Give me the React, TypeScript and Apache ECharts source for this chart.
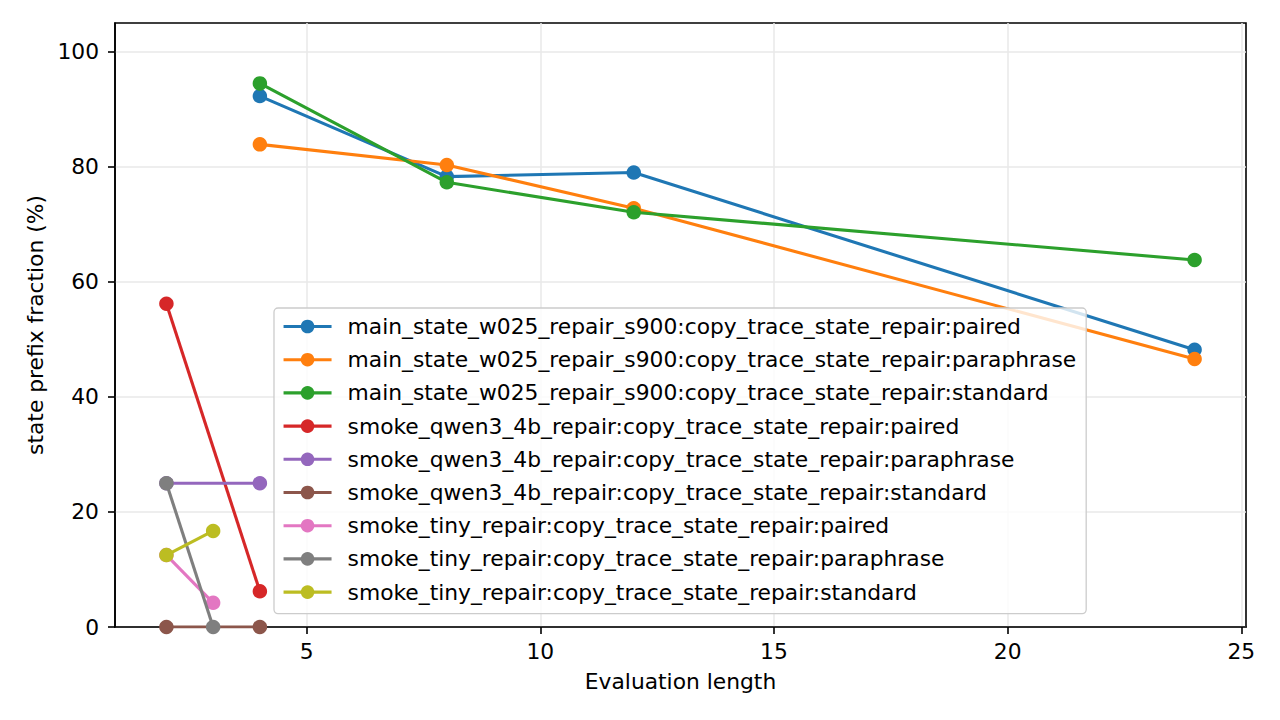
import React, { useEffect, useRef } from "react";
import * as echarts from "echarts";

const seriesNames = [
  "main_state_w025_repair_s900:copy_trace_state_repair:paired",
  "main_state_w025_repair_s900:copy_trace_state_repair:paraphrase",
  "main_state_w025_repair_s900:copy_trace_state_repair:standard",
  "smoke_qwen3_4b_repair:copy_trace_state_repair:paired",
  "smoke_qwen3_4b_repair:copy_trace_state_repair:paraphrase",
  "smoke_qwen3_4b_repair:copy_trace_state_repair:standard",
  "smoke_tiny_repair:copy_trace_state_repair:paired",
  "smoke_tiny_repair:copy_trace_state_repair:paraphrase",
  "smoke_tiny_repair:copy_trace_state_repair:standard",
];

const colors = [
  "#1f77b4", "#ff7f0e", "#2ca02c", "#d62728", "#9467bd",
  "#8c564b", "#e377c2", "#7f7f7f", "#bcbd22",
];

const xMain = [4, 8, 12, 24];
const mainPaired = [92.3, 78.3, 79.0, 48.2];
const mainParaphrase = [83.9, 80.3, 72.8, 46.6];
const mainStandard = [94.5, 77.3, 72.1, 63.8];

const xQwen = [2, 4];
const qwenPaired = [56.2, 6.2];
const qwenParaphrase = [25.0, 25.0];
const qwenStandard = [0.0, 0.0];

const xTiny = [2, 3];
const tinyPaired = [12.5, 4.2];
const tinyParaphrase = [25.0, 0.0];
const tinyStandard = [12.5, 16.7];

const xTicks = [5, 10, 15, 20, 25];
const yTicks = [0, 20, 40, 60, 80, 100];

const seriesX = [xMain, xMain, xMain, xQwen, xQwen, xQwen, xTiny, xTiny, xTiny];
const seriesY = [
  mainPaired, mainParaphrase, mainStandard,
  qwenPaired, qwenParaphrase, qwenStandard,
  tinyPaired, tinyParaphrase, tinyStandard,
];

const FONT = "DejaVu Sans";
const FS = 21.8;

export default function App() {
  const ref = useRef<HTMLDivElement>(null);

  useEffect(() => {
    if (!ref.current) return;
    const chart = echarts.init(ref.current, undefined, { renderer: "svg" });

    const series = seriesNames.map((name, i) => ({
      name,
      type: "line",
      data: seriesX[i].map((x, j) => [x, seriesY[i][j]]),
      symbol: "circle",
      symbolSize: 14.5,
      showSymbol: true,
      lineStyle: { width: 3.1, color: colors[i] },
      itemStyle: { color: colors[i] },
      emphasis: { disabled: true },
      z: 2 + i * 0.01,
    }));

    const axisText = { fontFamily: FONT, fontSize: FS, color: "#000" };

    chart.setOption({
      animation: false,
      color: colors,
      grid: {
        left: 115,
        top: 23,
        width: 1131,
        height: 604,
        show: true,
        borderColor: "#000",
        borderWidth: 1.6,
        backgroundColor: "transparent",
        containLabel: false,
      },
      xAxis: {
        type: "value",
        min: 0.9,
        max: 25.1,
        name: "Evaluation length",
        nameLocation: "middle",
        nameGap: 43,
        nameTextStyle: axisText,
        axisLine: { show: true, onZero: false, lineStyle: { color: "#000", width: 1.6 } },
        axisTick: {
          show: true,
          length: 7,
          customValues: xTicks,
          lineStyle: { color: "#000", width: 1.6 },
        },
        axisLabel: { ...axisText, margin: 13, customValues: xTicks },
        splitLine: { show: true, lineStyle: { color: "#e8e8e8", width: 1.5 } },
      },
      yAxis: {
        type: "value",
        min: 0,
        max: 105,
        name: "state prefix fraction (%)",
        nameLocation: "middle",
        nameGap: 63,
        nameTextStyle: axisText,
        axisLine: { show: true, onZero: false, lineStyle: { color: "#000", width: 1.6 } },
        axisTick: {
          show: true,
          length: 7,
          customValues: yTicks,
          lineStyle: { color: "#000", width: 1.6 },
        },
        axisLabel: { ...axisText, margin: 16, customValues: yTicks },
        splitLine: { show: true, lineStyle: { color: "#e8e8e8", width: 1.5 } },
      },
      legend: {
        orient: "vertical",
        left: 274,
        top: 308,
        itemWidth: 48,
        itemHeight: 17,
        itemGap: 11.2,
        padding: [7.5, 10, 10.5, 8],
        backgroundColor: "rgba(255,255,255,0.8)",
        borderColor: "#cccccc",
        borderWidth: 1.3,
        borderRadius: 4,
        lineStyle: { width: 3.1 },
        textStyle: {
          fontFamily: FONT,
          fontSize: FS,
          color: "#000",
          lineHeight: 21,
          padding: [0, 0, 0, 11],
        },
        data: seriesNames,
        selectedMode: false,
        z: 10,
      },
      series,
    });

    return () => chart.dispose();
  }, []);

  return (
    <div
      ref={ref}
      style={{ position: "fixed", left: 0, top: 0, width: 1280, height: 720, background: "#fff" }}
    />
  );
}
